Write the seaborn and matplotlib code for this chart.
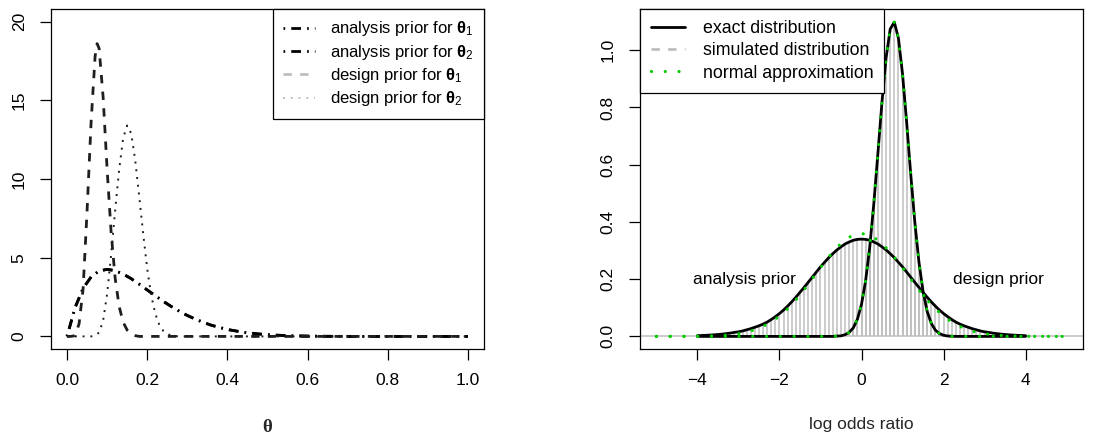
import matplotlib
matplotlib.use("Agg")
import matplotlib.pyplot as plt
import seaborn as sns
from matplotlib.lines import Line2D

# ---------------- left panel data (prior densities on theta) ----------------
theta_analysis = [0.00, 0.02, 0.04, 0.06, 0.08, 0.10, 0.12, 0.14, 0.16, 0.18, 0.20,
                  0.22, 0.24, 0.26, 0.28, 0.30, 0.32, 0.34, 0.36, 0.38, 0.40,
                  0.44, 0.48, 0.52, 0.56, 0.60, 0.65, 0.70, 0.80, 0.90, 1.00]
dens_analysis_t1 = [0, 1.83, 3.05, 3.78, 4.16, 4.26, 4.18, 3.96, 3.67, 3.32, 2.95,
                    2.59, 2.23, 1.90, 1.60, 1.33, 1.10, 0.89, 0.71, 0.57, 0.44,
                    0.26, 0.15, 0.08, 0.04, 0.02, 0.006, 0.002, 0, 0, 0]
dens_analysis_t2 = [0, 1.83, 3.05, 3.78, 4.16, 4.26, 4.18, 3.96, 3.67, 3.32, 2.95,
                    2.59, 2.23, 1.90, 1.60, 1.33, 1.10, 0.89, 0.71, 0.57, 0.44,
                    0.26, 0.15, 0.08, 0.04, 0.02, 0.006, 0.002, 0, 0, 0]

theta_design1 = [0.00, 0.01, 0.02, 0.03, 0.04, 0.05, 0.06, 0.07, 0.075, 0.08, 0.09,
                 0.10, 0.11, 0.12, 0.13, 0.14, 0.15, 0.16, 0.17, 0.18, 0.30, 0.50, 1.00]
dens_design1 = [0, 0, 0.05, 0.8, 3.0, 8.0, 13.6, 17.8, 18.6, 18.3, 15.2,
                10.6, 6.6, 3.7, 1.9, 0.9, 0.4, 0.15, 0.05, 0.0, 0, 0, 0]

theta_design2 = [0.00, 0.06, 0.07, 0.08, 0.09, 0.10, 0.11, 0.12, 0.13, 0.14, 0.15,
                 0.16, 0.17, 0.18, 0.19, 0.20, 0.21, 0.22, 0.23, 0.24, 0.25, 0.26,
                 0.27, 0.28, 0.40, 0.60, 1.00]
dens_design2 = [0, 0, 0.05, 0.25, 1.0, 2.7, 5.2, 8.0, 10.6, 12.6, 13.4,
                12.9, 11.2, 8.9, 6.5, 4.3, 2.6, 1.45, 0.75, 0.35, 0.15, 0.06,
                0.02, 0.0, 0, 0, 0]

left_xticks = [0.0, 0.2, 0.4, 0.6, 0.8, 1.0]
left_xticklabels = ["0.0", "0.2", "0.4", "0.6", "0.8", "1.0"]
left_yticks = [0, 5, 10, 15, 20]
left_yticklabels = ["0", "5", "10", "15", "20"]
left_labels = [r"analysis prior for $\mathbf{\theta}_1$",
               r"analysis prior for $\mathbf{\theta}_2$",
               r"design prior for $\mathbf{\theta}_1$",
               r"design prior for $\mathbf{\theta}_2$"]

# ---------------- right panel data (log odds ratio) ----------------
lor_x = [-4.0, -3.9, -3.8, -3.7, -3.6, -3.5, -3.4, -3.3, -3.2, -3.1,
         -3.0, -2.9, -2.8, -2.7, -2.6, -2.5, -2.4, -2.3, -2.2, -2.1,
         -2.0, -1.9, -1.8, -1.7, -1.6, -1.5, -1.4, -1.3, -1.2, -1.1,
         -1.0, -0.9, -0.8, -0.7, -0.6, -0.5, -0.4, -0.3, -0.2, -0.1,
         0.0, 0.1, 0.2, 0.3, 0.4, 0.5, 0.6, 0.7, 0.8, 0.9,
         1.0, 1.1, 1.2, 1.3, 1.4, 1.5, 1.6, 1.7, 1.8, 1.9,
         2.0, 2.1, 2.2, 2.3, 2.4, 2.5, 2.6, 2.7, 2.8, 2.9,
         3.0, 3.1, 3.2, 3.3, 3.4, 3.5, 3.6, 3.7, 3.8, 3.9, 4.0]
exact_analysis = [0.0026, 0.0032, 0.0038, 0.0046, 0.0055, 0.0067, 0.008, 0.0097, 0.0115, 0.014,
                  0.016, 0.019, 0.023, 0.027, 0.032, 0.037, 0.043, 0.050, 0.059, 0.069,
                  0.080, 0.092, 0.106, 0.121, 0.137, 0.154, 0.171, 0.189, 0.207, 0.225,
                  0.243, 0.259, 0.275, 0.289, 0.302, 0.313, 0.323, 0.330, 0.336, 0.339,
                  0.340, 0.339, 0.336, 0.330, 0.323, 0.313, 0.302, 0.289, 0.275, 0.259,
                  0.243, 0.225, 0.207, 0.189, 0.171, 0.154, 0.137, 0.121, 0.106, 0.092,
                  0.080, 0.069, 0.059, 0.050, 0.043, 0.037, 0.032, 0.027, 0.023, 0.019,
                  0.016, 0.014, 0.0115, 0.0097, 0.008, 0.0067, 0.0055, 0.0046, 0.0038, 0.0032, 0.0026]
exact_design = [0, 0, 0, 0, 0, 0, 0, 0, 0, 0,
                0, 0, 0, 0, 0, 0, 0, 0, 0, 0,
                0, 0, 0, 0, 0, 0, 0, 0, 0, 0,
                0, 0, 0, 0, 0.001, 0.002, 0.006, 0.014, 0.030, 0.060,
                0.112, 0.194, 0.311, 0.463, 0.640, 0.820, 0.974, 1.074, 1.098, 1.042,
                0.917, 0.749, 0.567, 0.399, 0.260, 0.158, 0.088, 0.046, 0.022, 0.010,
                0.004, 0.0015, 0.0005, 0, 0, 0, 0, 0, 0, 0,
                0, 0, 0, 0, 0, 0, 0, 0, 0, 0, 0]
sim_analysis = [0.002, 0.003, 0.004, 0.004, 0.005, 0.006, 0.008, 0.009, 0.011, 0.013,
                0.016, 0.019, 0.022, 0.027, 0.032, 0.038, 0.044, 0.051, 0.060, 0.070,
                0.081, 0.094, 0.108, 0.123, 0.140, 0.157, 0.175, 0.193, 0.211, 0.229,
                0.247, 0.263, 0.279, 0.293, 0.306, 0.317, 0.326, 0.333, 0.338, 0.341,
                0.342, 0.341, 0.338, 0.332, 0.324, 0.314, 0.303, 0.290, 0.276, 0.260,
                0.244, 0.226, 0.208, 0.190, 0.172, 0.155, 0.138, 0.122, 0.107, 0.093,
                0.081, 0.070, 0.060, 0.051, 0.044, 0.038, 0.032, 0.028, 0.023, 0.020,
                0.017, 0.014, 0.012, 0.010, 0.008, 0.007, 0.006, 0.005, 0.004, 0.003, 0.003]
sim_design = [0, 0, 0, 0, 0, 0, 0, 0, 0, 0,
              0, 0, 0, 0, 0, 0, 0, 0, 0, 0,
              0, 0, 0, 0, 0, 0, 0, 0, 0, 0,
              0, 0, 0, 0, 0.001, 0.003, 0.007, 0.015, 0.032, 0.063,
              0.116, 0.199, 0.316, 0.468, 0.645, 0.824, 0.977, 1.076, 1.100, 1.044,
              0.920, 0.752, 0.570, 0.402, 0.263, 0.160, 0.090, 0.047, 0.023, 0.011,
              0.004, 0.002, 0.001, 0, 0, 0, 0, 0, 0, 0,
              0, 0, 0, 0, 0, 0, 0, 0, 0, 0, 0]

approx_analysis_x = [-5.0, -4.75, -4.5, -4.25, -4.0, -3.75, -3.5, -3.25, -3.0, -2.75,
                     -2.5, -2.25, -2.0, -1.75, -1.5, -1.25, -1.0, -0.75, -0.5, -0.25,
                     0.0, 0.25, 0.5, 0.75, 1.0, 1.25, 1.5, 1.75, 2.0, 2.25,
                     2.5, 2.75, 3.0, 3.25, 3.5, 3.75, 4.0, 4.25, 4.5, 4.75, 5.0]
approx_analysis = [0, 0, 0.0001, 0.0002, 0.0005, 0.0012, 0.0025, 0.0049, 0.0092, 0.0166,
                   0.0282, 0.0458, 0.0706, 0.103, 0.144, 0.191, 0.240, 0.286, 0.325, 0.351,
                   0.360, 0.351, 0.325, 0.286, 0.240, 0.191, 0.144, 0.103, 0.0706, 0.0458,
                   0.0282, 0.0166, 0.0092, 0.0049, 0.0025, 0.0012, 0.0005, 0.0002, 0.0001, 0, 0]
approx_design_x = [-5.0, -4.0, -3.0, -2.0, -1.0, -0.6, -0.5, -0.4, -0.3, -0.2, -0.1,
                   0.0, 0.1, 0.2, 0.3, 0.4, 0.5, 0.6, 0.7, 0.8, 0.9,
                   1.0, 1.1, 1.2, 1.3, 1.4, 1.5, 1.6, 1.7, 1.8, 1.9,
                   2.0, 2.1, 2.2, 3.0, 4.0, 5.0]
approx_design = [0, 0, 0, 0, 0, 0.001, 0.002, 0.006, 0.014, 0.030, 0.060,
                 0.112, 0.194, 0.311, 0.463, 0.640, 0.820, 0.974, 1.074, 1.098, 1.042,
                 0.917, 0.749, 0.567, 0.399, 0.260, 0.158, 0.088, 0.046, 0.022, 0.010,
                 0.004, 0.0015, 0.0005, 0, 0, 0]

right_xticks = [-4, -2, 0, 2, 4]
right_xticklabels = ["\u22124", "\u22122", "0", "2", "4"]
right_yticks = [0.0, 0.2, 0.4, 0.6, 0.8, 1.0]
right_yticklabels = ["0.0", "0.2", "0.4", "0.6", "0.8", "1.0"]
right_labels = ["exact distribution", "simulated distribution", "normal approximation"]
annotations = [("analysis prior", -2.85, 0.20), ("design prior", 3.35, 0.20)]

# ---------------- styling ----------------
sns.set_theme(style="ticks")
FS = 12.5
plt.rcParams['font.family'] = ['Liberation Sans', 'DejaVu Sans']
plt.rcParams.update({
    'mathtext.fontset': 'custom',
    'mathtext.rm': 'Liberation Sans',
    'mathtext.it': 'Liberation Sans:italic',
    'mathtext.bf': 'Liberation Sans:bold',
    'axes.edgecolor': 'black',
    'axes.linewidth': 0.9,
    'axes.facecolor': 'white',
    'xtick.color': 'black', 'ytick.color': 'black',
    'xtick.labelcolor': 'black', 'ytick.labelcolor': 'black',
    'xtick.major.size': 8, 'ytick.major.size': 8,
    'xtick.major.width': 0.9, 'ytick.major.width': 0.9,
    'xtick.major.pad': 9.5, 'ytick.major.pad': 9.5,
    'xtick.labelsize': FS, 'ytick.labelsize': FS,
    'font.size': FS, 'text.color': 'black',
})

BLACK = 'black'
DARK = '#1e1e1e'
GRAY = '#bebebe'
GREEN = '#00cd00'
DOTDASH = (0, (0.6, 2.2, 3.5, 2.2))
DASHED = (0, (3.0, 3.0))
DOTTED = (0, (1.0, 3.0))
GREEN_DOTS = (0, (0.01, 4.3))

fig = plt.figure(figsize=(11.01, 4.38), dpi=100)
W, H = 1101.0, 438.0
ax1 = fig.add_axes([51 / W, 89 / H, 433 / W, 340 / H])
ax2 = fig.add_axes([640 / W, 89 / H, 443 / W, 340 / H])

# ---- left panel ----
sns.lineplot(x=theta_analysis, y=dens_analysis_t1, ax=ax1, color=BLACK, linewidth=2.0,
             linestyle=DOTDASH, estimator=None, sort=False)
sns.lineplot(x=theta_analysis, y=dens_analysis_t2, ax=ax1, color=BLACK, linewidth=2.0,
             linestyle=DOTDASH, estimator=None, sort=False)
sns.lineplot(x=theta_design1, y=dens_design1, ax=ax1, color=DARK, linewidth=2.0,
             linestyle=DASHED, estimator=None, sort=False)
sns.lineplot(x=theta_design2, y=dens_design2, ax=ax1, color=DARK, linewidth=1.4,
             linestyle=DOTTED, estimator=None, sort=False)

ax1.set_xlim(-0.04, 1.04)
ax1.set_ylim(-0.8, 20.8)
ax1.set_xticks(left_xticks)
ax1.set_xticklabels(left_xticklabels)
ax1.set_yticks(left_yticks)
ax1.set_yticklabels(left_yticklabels)
for lab in ax1.get_yticklabels():
    lab.set_rotation(90)
    lab.set_va('center')
ax1.set_ylabel("")
ax1.set_xlabel("θ", fontsize=FS + 1, fontweight='bold', family=['Liberation Serif', 'DejaVu Serif'],
               va='center')
ax1.xaxis.set_label_coords(0.5, -79 / 340)

h_left = [Line2D([], [], color=BLACK, lw=2.0, linestyle=DOTDASH),
          Line2D([], [], color=BLACK, lw=2.0, linestyle=DOTDASH),
          Line2D([], [], color=GRAY, lw=2.0, linestyle=DASHED),
          Line2D([], [], color=GRAY, lw=1.4, linestyle=DOTTED)]
leg1 = ax1.legend(h_left, left_labels, loc='upper right', borderaxespad=0, fancybox=False,
                  framealpha=1, edgecolor='black', handlelength=1.9, handletextpad=0.9,
                  borderpad=0.62, labelspacing=0.26, fontsize=12)
leg1.get_frame().set_linewidth(0.9)

# ---- right panel ----
ax2.vlines(lor_x, 0, sim_analysis, color=GRAY, lw=1.1, zorder=1)
ax2.vlines(lor_x, 0, sim_design, color=GRAY, lw=1.1, zorder=1)
ax2.axhline(0, color=GRAY, lw=1.1, zorder=1.5)
sns.lineplot(x=lor_x, y=exact_analysis, ax=ax2, color=BLACK, linewidth=2.0,
             estimator=None, sort=False, zorder=2)
sns.lineplot(x=lor_x, y=exact_design, ax=ax2, color=BLACK, linewidth=2.0,
             estimator=None, sort=False, zorder=2)
sns.lineplot(x=approx_analysis_x, y=approx_analysis, ax=ax2, color=GREEN, linewidth=2.3,
             linestyle=GREEN_DOTS, dash_capstyle='round', estimator=None, sort=False, zorder=3)
sns.lineplot(x=approx_design_x, y=approx_design, ax=ax2, color=GREEN, linewidth=2.3,
             linestyle=GREEN_DOTS, dash_capstyle='round', estimator=None, sort=False, zorder=3)
for txt, tx, ty in annotations:
    ax2.text(tx, ty, txt, ha='center', va='center', fontsize=FS)

ax2.set_xlim(-5.4, 5.4)
ax2.set_ylim(-0.044, 1.144)
ax2.set_xticks(right_xticks)
ax2.set_xticklabels(right_xticklabels)
ax2.set_yticks(right_yticks)
ax2.set_yticklabels(right_yticklabels)
for lab in ax2.get_yticklabels():
    lab.set_rotation(90)
    lab.set_va('center')
ax2.set_ylabel("")
ax2.set_xlabel("log odds ratio", fontsize=FS, va='center')
ax2.xaxis.set_label_coords(0.5, -76 / 340)

h_right = [Line2D([], [], color=BLACK, lw=2.0),
           Line2D([], [], color=GRAY, lw=2.0, linestyle=DASHED),
           Line2D([], [], color=GREEN, lw=2.3, linestyle=GREEN_DOTS, dash_capstyle='round')]
leg2 = ax2.legend(h_right, right_labels, loc='upper left', borderaxespad=0, fancybox=False,
                  framealpha=1, edgecolor='black', handlelength=1.9, handletextpad=1.0,
                  borderpad=0.62, labelspacing=0.3, fontsize=12.8)
leg2.get_frame().set_linewidth(0.9)

for ax in (ax1, ax2):
    for s in ax.spines.values():
        s.set_visible(True)
        s.set_color('black')
        s.set_linewidth(0.9)

fig.savefig("out.png", dpi=100)
